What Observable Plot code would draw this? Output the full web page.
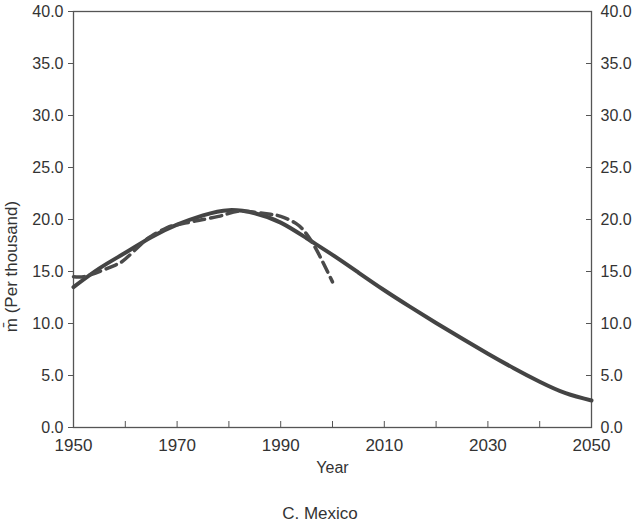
<!DOCTYPE html>
<html><head><meta charset="utf-8">
<script src="https://cdn.jsdelivr.net/npm/d3@7"></script>
<script src="https://cdn.jsdelivr.net/npm/@observablehq/plot@0.6"></script>
<style>
body{margin:0;background:#fff;font-family:"Liberation Sans",Arial,sans-serif;}
#cap{width:640px;text-align:center;font-size:17px;line-height:20px;color:#333;}
</style></head><body><div id="chart"></div><div id="cap">C. Mexico</div>
<script>
// Projected (solid) series
const projYears = [1950,1955,1960,1965,1970,1975,1980,1985,1990,1995,2000,2005,2010,2015,2020,2025,2030,2035,2040,2045,2050];
const projM     = [13.5,15.3,16.8,18.3,19.5,20.4,20.9,20.6,19.7,18.2,16.6,14.9,13.2,11.6,10.05,8.55,7.1,5.7,4.4,3.3,2.6];
// Estimated (dashed) series
const estYears = [1950,1952,1955,1958,1960,1963,1965,1968,1970,1973,1975,1978,1980,1982,1985,1988,1990,1993,1995,1997,2000];
const estM     = [14.5,14.5,15.0,15.6,16.2,17.6,18.4,19.2,19.5,19.8,20.0,20.3,20.6,20.8,20.7,20.5,20.3,19.6,18.6,17.0,14.0];
// Axis ticks
const xTicks = [1950,1960,1970,1980,1990,2000,2010,2020,2030,2040,2050];
const xLabelTicks = [1950,1970,1990,2010,2030,2050];
const yTicks = [0,5,10,15,20,25,30,35,40];
const yLabel = "m\u0304 (Per thousand)";
const xLabel = "Year";

const proj = projYears.map((y,i)=>({year:y, m:projM[i]}));
const est = estYears.map((y,i)=>({year:y, m:estM[i]}));

const ink = "#333";
const chart = Plot.plot({
  width: 634, height: 504,
  marginLeft: 73, marginRight: 43, marginTop: 11, marginBottom: 77,
  style: {fontFamily: '"Liberation Sans", Arial, sans-serif', color: ink, background: "#fff"},
  x: {domain: [1950, 2050]},
  y: {domain: [0, 40]},
  marks: [
    Plot.frame({stroke: "#555", strokeWidth: 1.3}),
    Plot.axisY({anchor: "left", ticks: yTicks, tickSize: 5, tickPadding: 5, tickFormat: d => d.toFixed(1), fontSize: 16, label: null, stroke: "#555"}),
    Plot.axisY({anchor: "right", ticks: yTicks, tickSize: -6, tickPadding: 15, tickFormat: d => d.toFixed(1), fontSize: 16, label: null, stroke: "#555"}),
    Plot.axisX({anchor: "bottom", ticks: xTicks, tickSize: -6, tickPadding: 17, tickFormat: d => xLabelTicks.includes(d) ? String(d) : "", fontSize: 17, label: null, stroke: "#555"}),
    Plot.text([yLabel], {frameAnchor: "left", textAnchor: "middle", dx: -62, dy: 47, rotate: -90, fontSize: 17, fill: ink}),
    Plot.text([xLabel], {frameAnchor: "bottom", dy: 45, fontSize: 16, fill: ink}),
    Plot.line(proj, {x: "year", y: "m", curve: "natural", stroke: "#444", strokeWidth: 4}),
    Plot.line(est, {x: "year", y: "m", curve: "natural", stroke: "#4a4a4a", strokeWidth: 3.5, strokeDasharray: "11,6"})
  ]
});
document.getElementById("chart").appendChild(chart);
</script></body></html>
